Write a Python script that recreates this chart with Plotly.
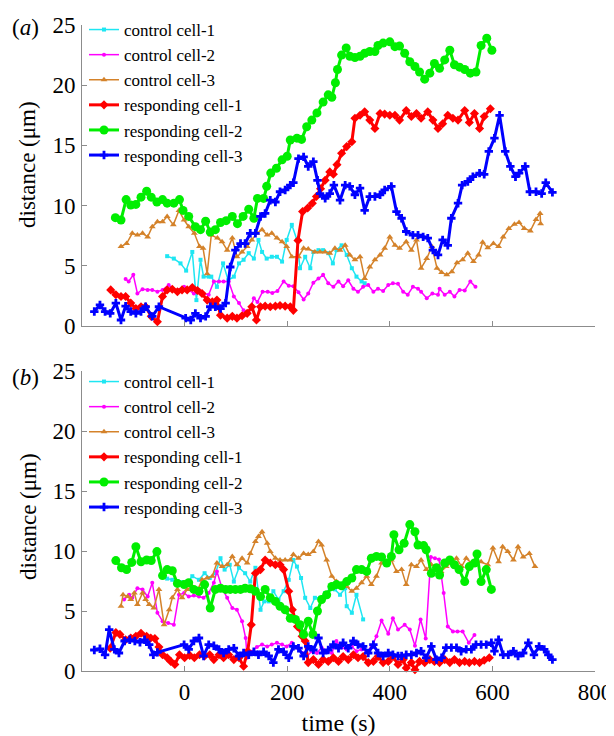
import plotly.graph_objects as go

# ---------------- data: (time s, distance um) ----------------
# panel (a)
a_ctrl1 = [(-34,5.8),(-21,5.6),(-8,5.2),(3,4.6),(15,6.15),(23,2.15),(31,5.5),(37,4.1),(47,4.1),(52,4.1),
           (63,3.25),(75,5.2),(85,3.8),(96,4.1),(106,5.2),(115,5.5),(125,6.05),(135,5.6),(144,7.15),(151,6.15),
           (160,5.6),(170,5.75),(180,5.75),(190,5.35),(199,7.15),(209,8.4),(219,7.15),(225,4.8),(235,5.75),(245,4.8),
           (251,6.15),(261,6.3),(270,6.3),(280,6.05),(289,5.2),(296,6.3),(306,6.7),(316,5.9),(326,4.8),(335,4.1),
           (345,3.7),(351,3.55)]
a_ctrl2 = [(-115,3.9),(-109,3.7),(-100,4.25),(-92,2.7),(-82,3.05),(-72,3.0),(-63,3.0),(-53,2.85),(-43,3.0),(-31,3.4),
           (-21,3.0),(-11,3.0),(-1,3.25),(8,3.0),(18,2.7),(28,3.0),(37,2.7),(47,2.6),(57,3.7),(67,3.7),
           (76,3.7),(86,3.7),(96,2.45),(106,1.9),(115,1.3),(125,1.05),(135,2.3),(142,2.0),(152,2.85),(162,2.85),
           (171,2.75),(181,2.9),(193,3.7),(203,3.35),(212,3.3),(222,2.8),(232,2.2),(241,2.7),(251,3.6),(261,3.95),
           (270,4.25),(280,3.55),(290,3.25),(300,3.7),(309,3.3),(319,3.8),(329,3.1),(338,2.85),(348,3.25),(358,3.4),
           (368,2.85),(377,3.1),(387,2.9),(397,3.4),(406,3.55),(416,3.5),(426,2.85),(435,2.6),(445,3.25),(455,3.1),
           (461,2.85),(472,2.3),(483,2.7),(494,2.6),(497,3.1),(507,2.6),(517,2.85),(526,2.45),(536,3.0),(546,2.95),
           (557,3.7),(567,3.25)]
a_ctrl3 = [(-124,6.6),(-113,6.85),(-102,7.7),(-92,7.55),(-82,7.7),(-72,7.4),(-63,8.25),(-53,8.65),(-43,8.65),(-34,9.1),
           (-22,8.4),(-11,9.6),(-1,8.8),(8,8.25),(19,7.7),(29,6.6),(36,6.45),(44,4.35),(52,7.55),(64,7.3),
           (73,7.0),(83,6.3),(93,7.3),(102,5.75),(112,6.15),(122,6.6),(131,7.15),(141,7.7),(151,8.0),(161,7.55),
           (170,7.7),(180,7.3),(190,7.0),(199,6.6),(209,5.75),(222,5.75),(232,6.45),(241,6.4),(254,6.15),(264,6.15),
           (274,6.15),(283,6.05),(293,6.45),(303,6.3),(313,6.7),(322,5.9),(332,5.5),(342,5.75),(351,3.95),(361,4.9),
           (371,5.5),(381,5.9),(390,6.45),(400,7.4),(410,6.7),(419,6.45),(432,7.0),(442,6.3),(452,7.15),(461,4.8),
           (472,5.6),(482,6.6),(492,4.8),(501,4.45),(511,4.25),(521,4.5),(531,5.25),(542,5.5),(552,6.05),(563,5.35),
           (573,5.9),(581,6.95),(591,6.5),(602,6.85),(612,6.6),(621,7.4),(632,8.1),(643,8.45),(652,8.6),(662,8.1),
           (674,7.9),(685,8.85),(693,9.35),(694,8.5)]
a_resp1 = [(-144,3.0),(-134,2.6),(-124,2.45),(-115,2.45),(-105,1.9),(-95,1.45),(-85,1.6),(-76,1.6),(-65,0.8),(-53,0.35),
           (-43,2.45),(-34,3.0),(-24,3.05),(-14,2.85),(-5,3.0),(5,3.0),(15,3.2),(25,2.95),(34,2.7),(44,2.15),
           (54,2.0),(63,2.15),(70,0.9),(83,0.65),(93,0.8),(102,0.65),(112,0.85),(122,1.05),(131,1.6),(140,0.5),
           (148,1.6),(157,1.65),(167,1.6),(177,1.65),(186,1.7),(196,1.65),(206,1.6),(212,1.3),(221,7.1),(230,9.5),
           (240,9.8),(249,10.2),(257,10.75),(265,11.4),(274,12.1),(283,12.8),(290,12.6),(297,13.4),(306,14.35),(316,14.9),
           (326,15.3),(332,17.25),(342,17.5),(351,17.8),(361,17.1),(371,16.4),(381,17.65),(390,17.6),(400,17.5),(410,17.5),
           (419,17.1),(432,17.9),(442,17.4),(452,17.65),(461,17.25),(474,17.8),(484,17.1),(494,16.4),(503,16.8),(513,17.5),
           (523,17.25),(533,17.1),(546,17.9),(555,16.9),(565,17.65),(575,16.4),(584,17.4),(596,18.05)]
a_resp2 = [(-135,9.0),(-124,8.8),(-114,10.5),(-105,10.05),(-95,10.1),(-85,10.7),(-74,11.2),(-65,10.7),(-54,10.3),(-43,10.5),
           (-34,10.2),(-21,10.2),(-10,10.5),(-3,9.6),(8,9.1),(21,8.25),(31,8.0),(41,8.7),(50,7.8),(60,8.0),
           (70,8.6),(81,8.75),(93,9.1),(103,8.5),(114,9.1),(125,9.7),(135,8.95),(142,10.6),(154,10.6),(160,11.6),
           (168,12.7),(179,13.1),(190,13.8),(200,14.1),(206,15.45),(219,15.6),(228,15.5),(238,16.55),(248,17.1),(258,17.7),
           (270,18.6),(280,19.2),(287,19.0),(294,20.2),(298,21.3),(306,22.5),(315,23.1),(322,22.4),(332,22.3),(342,22.4),
           (351,22.65),(361,22.8),(371,22.8),(377,23.3),(387,23.5),(400,23.6),(410,23.2),(419,23.25),(429,22.65),(439,21.95),
           (449,21.55),(458,21.1),(468,20.5),(478,21.0),(487,21.8),(497,21.4),(507,22.1),(517,22.9),(526,21.7),(536,21.5),
           (546,21.3),(557,21.0),(568,21.1),(578,23.3),(589,23.9),(599,22.9)]
a_resp3 = [(-176,1.2),(-165,1.75),(-155,1.2),(-145,1.05),(-134,1.9),(-124,0.5),(-115,1.65),(-105,1.2),(-95,1.05),(-85,1.2),
           (-76,1.6),(-63,0.8),(-50,1.6),(2,0.65),(12,0.5),(21,1.05),(31,0.65),(41,0.8),(50,1.6),(60,1.6),
           (70,1.45),(80,1.9),(89,4.9),(99,6.3),(109,6.85),(118,6.85),(128,7.7),(138,7.7),(148,9.1),(157,9.35),
           (167,10.45),(177,10.3),(186,11.15),(196,11.3),(206,11.7),(212,11.9),(222,13.9),(232,14.05),(241,13.25),(251,13.65),
           (259,12.1),(264,11.0),(274,10.6),(283,11.0),(291,11.7),(303,10.45),(313,11.7),(322,11.6),(332,10.9),(342,11.45),
           (351,9.6),(361,10.75),(371,10.75),(381,10.9),(390,11.3),(403,11.6),(413,9.5),(423,8.95),(432,7.85),(445,7.55),
           (455,7.55),(465,7.4),(474,7.3),(484,6.3),(494,5.9),(503,7.15),(513,6.7),(520,8.95),(533,10.2),(541,11.7),
           (552,12.0),(562,12.4),(575,12.7),(584,12.6),(593,14.5),(604,15.6),(614,17.5),(625,14.5),(635,13.25),(645,12.4),
           (652,12.7),(664,13.25),(673,11.15),(685,11.15),(696,11.0),(704,11.9),(717,11.1)]

# panel (b)
b_ctrl1 = [(-34,7.7),(-24,7.6),(-14,7.5),(-5,7.4),(5,7.3),(15,7.9),(28,7.6),(39,8.15),(49,7.75),(60,8.15),
           (70,9.4),(78,8.45),(88,8.85),(96,7.45),(106,8.6),(118,8.15),(128,7.45),(138,8.6),(148,5.1),(155,5.8),
           (164,5.8),(173,6.65),(183,5.95),(193,6.65),(203,7.6),(212,9.25),(219,8.7),(227,7.75),(235,6.1),(245,5.25),
           (254,6.1),(264,6.1),(274,6.5),(283,6.8),(293,6.8),(303,6.35),(313,6.9),(316,5.4),(326,4.85),(335,6.35),
           (348,4.3)]
b_ctrl2 = [(-118,5.95),(-108,6.35),(-102,6.1),(-92,6.9),(-82,6.8),(-72,6.2),(-63,7.35),(-53,4.85),(-43,4.15),(-32,4.0),
           (-21,3.85),(-11,6.35),(-1,6.5),(8,6.2),(18,6.3),(28,6.2),(37,6.1),(47,6.5),(57,7.35),(63,8.3),
           (73,6.9),(83,6.1),(93,5.25),(102,5.1),(112,4.15),(119,2.75),(122,1.1),(131,1.6),(141,2.0),(151,2.2),
           (161,2.05),(170,2.2),(180,2.35),(190,2.2),(199,2.05),(209,2.35),(219,1.95),(229,1.5),(239,1.25),(248,1.65),
           (258,1.5),(267,1.95),(277,1.65),(287,1.5),(296,2.5),(306,1.95),(316,1.8),(326,2.05),(335,1.65),(345,1.8),
           (355,1.65),(364,1.95),(374,2.9),(384,4.2),(397,3.1),(406,4.4),(416,3.45),(429,3.85),(439,3.45),(449,2.1),
           (460,4.3),(470,2.7),(480,9.5),(488,9.4),(496,9.3),(505,6.5),(513,3.7),(523,3.3),(532,3.3),(542,3.3),
           (554,2.35),(565,3.0)]
b_ctrl3 = [(-124,5.4),(-120,6.35),(-111,6.2),(-105,5.95),(-98,6.5),(-92,5.55),(-82,6.5),(-76,5.95),(-69,5.55),(-60,5.25),
           (-50,6.8),(-40,3.85),(-30,5.1),(-24,6.1),(-14,6.8),(-5,6.1),(5,6.8),(15,7.05),(26,6.8),(34,7.6),
           (44,7.75),(54,7.9),(63,9.0),(73,8.7),(83,8.85),(93,9.55),(102,8.85),(112,9.4),(122,9.0),(128,9.8),
           (138,10.8),(144,11.2),(151,11.6),(161,10.65),(167,9.95),(177,9.4),(186,9.25),(196,9.25),(206,9.25),(212,9.7),
           (222,9.4),(232,9.8),(241,9.7),(251,9.95),(261,10.8),(267,10.5),(277,9.25),(287,7.9),(296,7.45),(306,7.05),
           (316,7.05),(326,6.65),(335,6.9),(345,7.35),(355,7.9),(364,7.2),(374,7.9),(384,9.0),(394,8.9),(403,9.25),
           (413,8.3),(423,8.45),(432,7.2),(442,8.85),(452,8.7),(461,9.25),(471,8.45),(481,8.85),(491,8.7),(500,8.3),
           (510,8.7),(520,9.0),(530,9.4),(540,8.7),(549,9.4),(559,9.0),(568,9.25),(578,9.1),(591,8.85),(601,10.25),
           (612,9.1),(620,10.35),(630,9.95),(641,9.25),(650,10.35),(660,9.5),(672,9.8),(683,8.7)]
b_resp1 = [(-145,1.9),(-134,3.2),(-126,3.05),(-115,2.6),(-105,2.75),(-95,2.9),(-85,3.15),(-74,2.9),(-66,2.75),(-58,2.7),
           (-50,2.0),(-43,1.35),(-34,1.1),(-27,0.8),(-19,0.55),(-10,1.35),(0,1.1),(10,1.3),(19,1.1),(29,1.35),
           (39,1.25),(49,1.35),(57,0.95),(67,1.35),(76,1.1),(86,1.35),(96,0.95),(106,1.1),(115,0.4),(123,1.65),
           (130,3.85),(138,8.15),(148,8.45),(157,9.25),(167,9.0),(177,8.85),(186,8.85),(193,8.45),(203,6.65),(210,5.1),
           (220,3.7),(229,2.9),(235,2.5),(241,0.7),(251,0.95),(261,0.55),(270,0.95),(280,0.8),(290,1.1),(300,0.8),
           (309,1.2),(319,0.95),(329,1.35),(338,1.1),(348,1.2),(358,0.7),(368,0.8),(377,1.2),(387,0.7),(397,0.8),
           (406,1.2),(416,0.55),(426,0.95),(432,0.25),(442,0.7),(449,0.1),(458,0.8),(468,0.7),(478,0.95),(487,0.8),
           (497,0.7),(507,0.95),(517,0.7),(526,0.95),(536,0.7),(546,0.8),(555,0.7),(565,0.8),(575,0.7),(584,0.9),
           (594,1.1)]
b_resp2 = [(-134,9.2),(-123,8.6),(-113,8.45),(-103,9.05),(-95,10.35),(-85,9.1),(-74,9.25),(-65,9.2),(-54,9.95),(-43,7.95),
           (-34,8.45),(-24,8.35),(-14,7.3),(-1,7.2),(8,7.35),(18,6.8),(28,6.65),(39,7.2),(50,5.25),(60,6.8),
           (70,6.9),(80,6.8),(89,6.8),(99,6.8),(109,6.8),(118,6.9),(128,6.85),(138,6.65),(148,6.2),(157,6.8),
           (167,6.1),(177,5.8),(186,5.4),(196,5.1),(206,4.4),(216,4.3),(225,3.85),(232,3.05),(241,4.15),(250,3.05),
           (259,5.0),(267,5.95),(277,6.35),(287,7.05),(296,7.2),(306,7.1),(316,7.45),(326,7.75),(335,8.45),(345,8.45),
           (355,8.3),(364,9.4),(374,9.55),(384,9.5),(394,9.0),(403,9.55),(408,11.35),(418,10.1),(428,10.65),(439,12.2),
           (449,11.6),(455,10.5),(466,10.45),(471,10.1),(481,8.15),(491,8.6),(497,8.0),(507,9.0),(517,9.25),(526,8.85),
           (535,8.45),(546,7.45),(555,8.7),(565,9.0),(570,9.75),(578,7.45),(588,8.45),(598,6.8)]
b_resp3 = [(-176,1.75),(-165,1.85),(-155,1.35),(-147,3.45),(-137,1.8),(-128,1.5),(-117,2.5),(-107,2.6),(-97,2.5),(-87,2.4),
           (-78,2.6),(-69,2.2),(-61,1.35),(-53,1.55),(-1,2.2),(8,1.8),(18,2.5),(28,2.75),(37,1.25),(47,2.2),
           (57,2.1),(67,1.8),(76,1.5),(86,1.8),(96,1.9),(106,1.25),(115,1.5),(125,1.35),(135,1.6),(144,1.35),
           (154,1.6),(164,1.25),(173,0.7),(183,1.8),(193,1.6),(203,1.1),(212,2.05),(222,1.9),(232,1.25),(241,2.05),
           (251,1.75),(261,2.75),(270,1.5),(280,1.75),(290,2.2),(300,1.9),(309,2.35),(319,1.9),(329,2.5),(338,2.2),
           (348,2.05),(358,1.5),(368,2.2),(377,1.5),(387,1.25),(397,1.5),(406,1.35),(416,1.25),(423,1.25),(432,1.35),
           (442,1.35),(452,1.5),(461,1.65),(471,1.1),(481,2.05),(491,0.95),(501,1.1),(510,1.95),(520,1.95),(530,1.95),
           (539,1.65),(549,1.8),(559,1.8),(568,2.2),(578,2.2),(588,2.2),(598,2.35),(604,1.65),(612,2.6),(621,1.35),
           (631,1.35),(641,1.65),(650,1.25),(660,1.5),(670,2.35),(681,1.35),(691,2.05),(701,1.8),(709,1.35),(717,0.95)]

series_names = ["control cell-1", "control cell-2", "control cell-3",
                "responding cell-1", "responding cell-2", "responding cell-3"]
panel_a = [a_ctrl1, a_ctrl2, a_ctrl3, a_resp1, a_resp2, a_resp3]
panel_b = [b_ctrl1, b_ctrl2, b_ctrl3, b_resp1, b_resp2, b_resp3]
x_ticks = [0, 200, 400, 600, 800]
y_ticks = [0, 5, 10, 15, 20, 25]
y_title = "distance (μm)"
x_title = "time (s)"

# ---------------- styles ----------------
styles = [
    dict(color="#1EE6F2", symbol="square", size=4, width=1.5),
    dict(color="#FF00FF", symbol="circle", size=4, width=1.5),
    dict(color="#D4822A", symbol="triangle-up", size=6, width=1.5),
    dict(color="#FF0000", symbol="diamond", size=7, width=3),
    dict(color="#00EE00", symbol="circle", size=9, width=3),
    dict(color="#0000FF", symbol="cross", size=7, width=3),
]

FONT = "Liberation Serif, Tinos, Times New Roman, DejaVu Serif, serif"
OFF = 8                      # page body margin of the viewer
W, H = 614 - OFF, 736 - OFF  # figure occupies the rest of the window
# plot-area edges expressed in window pixels
X0, X1 = 82, 595
Y_TOP_A, Y_BOT_A = 25, 326
Y_TOP_B, Y_BOT_B = 371, 671
ML, MR = X0 - OFF, W - (X1 - OFF)
MT, MB = 4, H - (Y_BOT_B - OFF)
PW, PH = W - ML - MR, H - MT - MB


def px_x(p):
    return (p - OFF - ML) / PW


def px_y(p):
    return (H - MB - (p - OFF)) / PH


fig = go.Figure()

for panel, (xa, ya, leg) in zip([panel_a, panel_b], [("x", "y", "legend"), ("x2", "y2", "legend2")]):
    for i, (pts, name, st) in enumerate(zip(panel, series_names, styles)):
        fig.add_trace(go.Scatter(
            x=[p[0] for p in pts], y=[p[1] for p in pts],
            mode="lines+markers", name=name,
            line=dict(color=st["color"], width=st["width"]),
            marker=dict(color=st["color"], symbol=st["symbol"], size=st["size"]),
            xaxis=xa, yaxis=ya, legend=leg,
            cliponaxis=False,
        ))

axis_common = dict(showline=True, linecolor="#8C8C8C", linewidth=1, ticks="inside", ticklen=5,
                   tickcolor="#8C8C8C", showgrid=False, zeroline=False, automargin=False,
                   tickfont=dict(family=FONT, size=23, color="black"))

legend_common = dict(font=dict(family=FONT, size=17, color="black"), bgcolor="rgba(0,0,0,0)",
                     borderwidth=0, xanchor="left", yanchor="top", x=px_x(84))

fig.update_layout(
    template="none",
    width=W, height=H,
    margin=dict(l=ML, r=MR, t=MT, b=MB, autoexpand=False),
    paper_bgcolor="white", plot_bgcolor="white",
    font=dict(family=FONT, color="black"),
    showlegend=True,
    xaxis=dict(range=[-200, 800], domain=[0, 1], anchor="y", tickvals=x_ticks, showticklabels=False, **axis_common),
    yaxis=dict(range=[0, 25], domain=[px_y(Y_BOT_A), px_y(Y_TOP_A)], anchor="x", tickvals=y_ticks,
               ticklabelstandoff=1, **axis_common),
    xaxis2=dict(range=[-200, 800], domain=[0, 1], anchor="y2", tickvals=x_ticks, ticklabelstandoff=0,
                title=dict(text=x_title, font=dict(family=FONT, size=24), standoff=12), **axis_common),
    yaxis2=dict(range=[0, 25], domain=[0, px_y(Y_TOP_B)], anchor="x2", tickvals=y_ticks,
                ticklabelstandoff=1, **axis_common),
    legend=dict(y=px_y(12), **legend_common),
    legend2=dict(y=px_y(364), **legend_common),
)

# y-axis titles (rotated) and panel labels
for ypix in [165, 517]:
    fig.add_annotation(text=y_title, xref="paper", yref="paper", x=px_x(28), y=px_y(ypix),
                       textangle=-90, xanchor="center", yanchor="middle", showarrow=False,
                       font=dict(family=FONT, size=23, color="black"))

for lab, ypix in [("(<i>a</i>)", 28), ("(<i>b</i>)", 377)]:
    fig.add_annotation(text=lab, xref="paper", yref="paper",
                       x=px_x(25), y=px_y(ypix),
                       xanchor="center", yanchor="middle", showarrow=False,
                       font=dict(family=FONT, size=23, color="black"))

fig.write_html("out.html")
